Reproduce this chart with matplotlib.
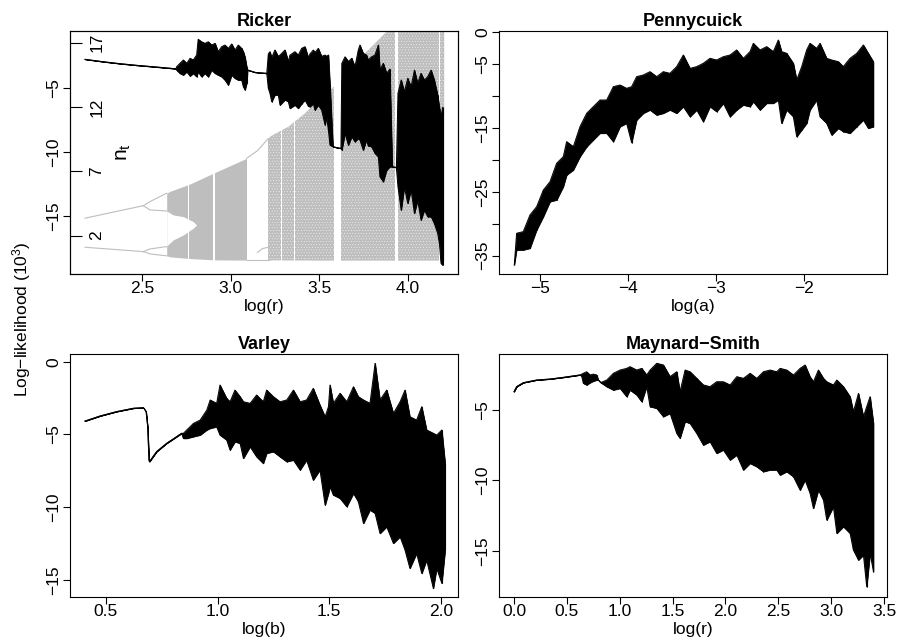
import numpy as np
import matplotlib.pyplot as plt
from matplotlib.transforms import blended_transform_factory

plt.rcParams['font.family'] = ['Liberation Sans', 'DejaVu Sans']
plt.rcParams['mathtext.default'] = 'regular'
plt.rcParams['hatch.linewidth'] = 0.3

GRAY = '#bebebe'
MINUS = '\u2212'

# ---------------- Ricker: log-likelihood profile (upper / lower envelope) ----------------
ricker_x = [2.177, 2.280, 2.374, 2.469, 2.562, 2.690,
            2.694, 2.713, 2.732, 2.751, 2.770, 2.788, 2.807, 2.816, 2.835, 2.854, 2.873,
            2.892, 2.911, 2.929, 2.948, 2.967, 2.986, 3.005, 3.024, 3.042, 3.061, 3.071,
            3.080, 3.090, 3.095, 3.137, 3.203,
            3.212, 3.221, 3.231, 3.249, 3.268, 3.278, 3.306, 3.325, 3.334, 3.362, 3.381,
            3.400, 3.419, 3.438, 3.447, 3.466, 3.475, 3.494, 3.513, 3.532, 3.541, 3.551,
            3.560, 3.577, 3.600, 3.622,
            3.627, 3.645, 3.664, 3.683, 3.701, 3.720, 3.729, 3.748, 3.766, 3.776, 3.795,
            3.814, 3.833, 3.842, 3.861, 3.880, 3.898, 3.912, 3.935,
            3.944, 3.962, 3.980, 3.999, 4.018, 4.037, 4.055, 4.074, 4.093, 4.112, 4.131,
            4.149, 4.168, 4.178, 4.187, 4.196]
ricker_hi = [-2.73, -2.92, -3.07, -3.20, -3.31, -3.47,
             -3.31, -3.04, -2.78, -3.04, -2.65, -2.78, -2.39, -1.16, -1.35, -1.48, -1.35,
             -1.61, -1.48, -2.13, -1.74, -1.61, -1.87, -1.53, -2.00, -1.61, -1.87, -2.13,
             -2.53, -3.31, -3.57, -3.75, -3.83,
             -2.30, -2.13, -2.60, -2.00, -2.50, -2.39, -2.00, -2.90, -2.40, -2.13, -2.40,
             -1.87, -1.74, -2.60, -2.30, -2.00, -2.20, -1.87, -2.50, -2.39, -2.50, -2.39,
             -4.70, -9.57, -9.65, -9.70,
             -3.04, -2.53, -2.90, -2.65, -3.31, -2.00, -1.61, -2.26, -2.39, -2.78, -2.53,
             -2.39, -1.61, -3.57, -3.04, -3.83, -3.50, -11.14, -11.20,
             -5.39, -4.35, -5.27, -4.22, -4.87, -3.57, -4.61, -3.83, -4.35, -4.09, -3.57,
             -4.35, -5.52, -6.50, -7.22, -6.50]
ricker_lo = [-2.73, -2.92, -3.07, -3.20, -3.31, -3.47,
             -3.57, -3.83, -3.96, -3.70, -4.04, -3.83, -4.09, -3.70, -4.09, -3.83, -4.09,
             -3.57, -3.83, -3.96, -4.09, -4.35, -4.74, -3.96, -4.22, -4.35, -4.35, -4.87,
             -5.13, -4.61, -3.57, -3.75, -3.83,
             -5.00, -5.39, -6.05, -5.52, -5.52, -6.31, -5.90, -6.05, -6.57, -6.31, -6.57,
             -6.20, -5.92, -6.40, -6.44, -6.20, -6.70, -6.31, -6.70, -7.87, -7.22, -8.27,
             -9.44, -9.57, -9.65, -9.70,
             -9.83, -8.52, -9.44, -8.79, -9.18, -8.92, -9.05, -9.83, -9.05, -9.50, -9.57,
             -10.09, -10.36, -11.92, -12.31, -11.40, -11.14, -11.14, -11.20,
             -12.71, -14.53, -12.71, -14.00, -12.96, -14.79, -13.75, -15.31, -14.53, -15.05,
             -15.05, -15.57, -16.35, -17.14, -18.70, -18.84]

# ---------------- Ricker: bifurcation diagram (n_t) ----------------
bif_x = [2.638, 2.657, 2.770, 2.901, 3.090, 3.137, 3.221, 3.325, 3.419, 3.513, 3.607,
         3.701, 3.795, 3.889, 4.205]
bif_hi = [5.30, 5.45, 6.02, 6.85, 8.02, 8.79, 9.70, 10.47, 11.51, 12.80, 13.85,
          15.40, 16.69, 17.99, 19.00]
bif_lo = [0.43, 0.35, 0.22, 0.12, 0.10, 0.10, 0.08, 0.07, 0.07, 0.06, 0.06,
          0.06, 0.06, 0.06, 0.06]
speckle_from = 3.212   # right of the period-3 window the band is visibly speckled
gap_x = [2.638, 2.675, 2.732, 2.788, 2.807]
gap_top = [3.92, 3.61, 3.48, 3.09, 2.83]
gap_bot = [1.20, 1.67, 2.06, 2.58, 2.83]
win_start = [2.757, 2.902, 3.090, 3.285, 3.356, 3.583, 3.927, 4.178]
win_end = [2.764, 2.909, 3.212, 3.291, 3.362, 3.622, 3.946, 4.184]
branches = [
    ([2.177, 2.506], [3.36, 4.33]),
    ([2.177, 2.506], [1.10, 0.76]),
    ([2.506, 2.544, 2.638], [4.33, 4.65, 5.30]),
    ([2.506, 2.544, 2.638], [4.33, 4.00, 3.92]),
    ([2.506, 2.544, 2.638], [0.76, 0.97, 1.15]),
    ([2.506, 2.544, 2.638], [0.76, 0.58, 0.43]),
    ([3.090, 3.150, 3.212], [8.02, 8.60, 9.55]),
    ([3.090, 3.212], [0.10, 0.10]),
    ([3.150, 3.180, 3.212], [0.70, 1.00, 1.10]),
]
nt_ticks = [2, 7, 12, 17]

# ---------------- Pennycuick ----------------
penny_x = [-5.293, -5.267, -5.191, -5.115, -5.039, -4.963, -4.887, -4.812, -4.736, -4.698,
           -4.622, -4.546, -4.470, -4.395, -4.319, -4.243, -4.167, -4.091, -4.016, -3.959,
           -3.902, -3.826, -3.750, -3.674, -3.599, -3.523, -3.447, -3.371, -3.295, -3.219,
           -3.144, -3.068, -2.992, -2.916, -2.840, -2.765, -2.689, -2.613, -2.575, -2.499,
           -2.423, -2.348, -2.291, -2.253, -2.196, -2.120, -2.082, -2.025, -1.969, -1.931,
           -1.855, -1.817, -1.741, -1.684, -1.608, -1.552, -1.476, -1.400, -1.324, -1.267,
           -1.210]
penny_hi = [-36.45, -31.49, -31.23, -28.62, -27.32, -24.71, -23.40, -20.53, -19.48, -17.13,
            -17.92, -14.78, -12.69, -11.65, -10.61, -10.61, -8.52, -8.26, -8.78, -8.52,
            -6.95, -6.69, -6.17, -6.95, -6.17, -6.43, -5.38, -3.56, -5.65, -5.38,
            -4.86, -4.08, -4.34, -3.82, -3.56, -2.77, -4.08, -3.03, -1.73, -2.77,
            -2.25, -3.03, -1.21, -3.03, -3.30, -4.86, -7.47, -5.38, -2.77, -1.73,
            -2.51, -1.73, -4.08, -4.34, -4.60, -5.38, -4.08, -3.30, -1.99, -3.30,
            -4.60]
penny_lo = [-36.45, -34.10, -34.10, -33.84, -30.97, -28.88, -26.53, -26.27, -24.18, -22.36,
            -21.57, -19.48, -17.92, -16.87, -15.82, -15.82, -17.13, -14.78, -14.26, -17.29,
            -13.74, -12.69, -12.17, -12.96, -12.69, -12.17, -12.69, -11.65, -13.22, -12.17,
            -14.00, -11.65, -12.43, -11.13, -13.22, -12.17, -11.39, -11.65, -10.87, -12.17,
            -11.13, -11.13, -10.61, -14.26, -12.17, -13.22, -16.35, -15.30, -14.26, -12.17,
            -10.61, -13.22, -14.26, -16.09, -15.04, -15.56, -15.82, -14.78, -13.74, -15.04,
            -14.78]
penny_yticks = [0, -5, -10, -15, -20, -25, -30, -35]
penny_ylabels = ['0', MINUS + '5', '', MINUS + '15', '', MINUS + '25', '', MINUS + '35']

# ---------------- Varley ----------------
varley_x = [0.406, 0.474, 0.548, 0.623, 0.668, 0.680, 0.687, 0.693, 0.695, 0.727, 0.772,
            0.817, 0.839, 0.847, 0.862, 0.892, 0.922, 0.952, 0.967, 0.996, 1.011, 1.041,
            1.056, 1.078, 1.101, 1.116, 1.146, 1.175, 1.205, 1.220, 1.250, 1.280, 1.310,
            1.340, 1.370, 1.399, 1.429, 1.459, 1.482, 1.497, 1.504, 1.519, 1.549, 1.579,
            1.609, 1.631, 1.654, 1.683, 1.706, 1.728, 1.758, 1.788, 1.818, 1.840, 1.862,
            1.892, 1.915, 1.937, 1.967, 1.982, 2.005, 2.020]
varley_hi = [-4.08, -3.73, -3.43, -3.20, -3.16, -3.43, -4.46, -6.75, -6.87, -6.18, -5.61,
             -5.15, -4.92, -4.92, -4.69, -4.24, -4.01, -3.32, -2.63, -2.86, -1.60, -2.52,
             -2.75, -1.95, -2.40, -2.75, -2.86, -2.29, -2.75, -1.95, -2.40, -2.75, -2.63,
             -1.95, -2.75, -2.63, -1.83, -2.98, -3.78, -3.09, -1.60, -2.86, -2.17, -2.75,
             -1.72, -2.40, -2.63, -2.86, -0.11, -2.63, -1.95, -3.55, -2.75, -1.95, -3.78,
             -4.01, -3.09, -4.69, -4.92, -5.04, -4.69, -6.99]
varley_lo = [-4.08, -3.73, -3.43, -3.20, -3.16, -3.43, -4.46, -6.75, -6.87, -6.18, -5.61,
             -5.15, -4.92, -5.27, -5.27, -5.15, -5.04, -4.69, -4.58, -4.47, -5.04, -5.38,
             -6.07, -5.50, -5.61, -6.64, -5.84, -6.53, -6.99, -6.30, -6.18, -6.53, -6.87,
             -6.76, -7.44, -6.76, -8.13, -7.44, -9.85, -9.05, -8.59, -9.16, -9.39, -9.96,
             -9.05, -9.62, -11.11, -10.19, -10.42, -11.80, -11.34, -12.48, -12.03, -12.94,
             -14.20, -13.17, -14.55, -13.63, -15.58, -14.20, -15.23, -12.94]

# ---------------- Maynard-Smith ----------------
ms_x = [0.000, 0.025, 0.088, 0.214, 0.341, 0.467, 0.624, 0.640, 0.656, 0.687, 0.719,
        0.750, 0.782, 0.798, 0.820, 0.877, 0.940, 1.003, 1.066, 1.097, 1.161, 1.208,
        1.255, 1.287, 1.350, 1.413, 1.476, 1.539, 1.570, 1.618, 1.665, 1.728, 1.791,
        1.854, 1.917, 1.980, 2.044, 2.107, 2.170, 2.233, 2.296, 2.359, 2.422, 2.485,
        2.517, 2.580, 2.643, 2.706, 2.753, 2.800, 2.832, 2.879, 2.927, 2.958, 3.021,
        3.053, 3.116, 3.179, 3.210, 3.258, 3.305, 3.336, 3.368, 3.400]
ms_hi = [-3.70, -3.34, -3.06, -2.87, -2.80, -2.68, -2.51, -2.45, -2.39, -2.28, -2.51,
         -2.45, -2.51, -2.87, -3.05, -2.87, -2.39, -2.16, -2.04, -1.92, -2.16, -2.04,
         -2.51, -2.16, -1.68, -1.80, -2.63, -2.28, -3.70, -2.16, -2.28, -2.75, -3.22,
         -3.34, -2.99, -2.99, -3.22, -2.63, -2.75, -2.39, -2.75, -2.28, -2.16, -2.28,
         -2.04, -2.16, -2.51, -2.04, -1.80, -2.63, -2.99, -2.16, -2.75, -2.99, -3.22,
         -2.87, -3.34, -4.05, -5.12, -3.82, -5.47, -4.76, -4.05, -5.95]
ms_lo = [-3.70, -3.34, -3.06, -2.87, -2.80, -2.68, -2.51, -2.60, -3.10, -3.22, -3.06,
         -2.95, -2.87, -2.87, -3.05, -3.34, -3.58, -3.46, -4.05, -3.58, -3.93, -4.41,
         -3.34, -4.76, -4.88, -5.47, -5.24, -6.66, -7.01, -5.83, -5.95, -6.66, -7.49,
         -7.25, -8.08, -7.84, -8.55, -8.20, -9.26, -8.79, -9.03, -9.38, -9.26, -9.26,
         -9.62, -9.38, -9.74, -10.69, -9.98, -10.92, -11.99, -10.69, -11.40, -12.82,
         -11.87, -13.77, -13.29, -13.77, -14.95, -15.66, -15.31, -17.56, -15.19, -16.49]

# ---------------- figure ----------------
W, H = 897, 639
fig = plt.figure(figsize=(W / 100, H / 100), dpi=100)


def box(x0, y0, x1, y1):
    return [x0 / W, 1 - y1 / H, (x1 - x0) / W, (y1 - y0) / H]


def style(ax, xlab, title):
    for s in ax.spines.values():
        s.set_linewidth(0.8)
    ax.tick_params(direction='out', length=4.8, width=0.8, labelsize=12.5)
    ax.tick_params(axis='x', pad=0.5)
    ax.tick_params(axis='y', labelrotation=90, pad=1.5)
    plt.setp(ax.get_yticklabels(), va='center')
    ax.set_title(title, fontsize=13, fontweight='bold', pad=3.5)
    ax.set_xlabel(xlab, fontsize=12.5)
    ax.xaxis.set_label_coords(0.5, -0.135)
    ax.xaxis.label.set_va('center')


def trace(ax, x, hi, lo):
    ax.fill_between(x, lo, hi, facecolor='black', edgecolor='black', lw=0.5)
    ax.vlines(x, lo, hi, color='black', lw=0.8)
    ax.plot(x, hi, color='black', lw=0.7)
    ax.plot(x, lo, color='black', lw=0.7)


# Ricker: bifurcation axes underneath, likelihood axes on top
axb = fig.add_axes(box(70, 31, 458, 274))
bx = np.array(bif_x)
axb.fill_between(bx, bif_lo, bif_hi, where=bx <= speckle_from + 0.01, interpolate=True,
                 color=GRAY, lw=0)
axb.fill_between(bx, bif_lo, bif_hi, where=bx >= speckle_from - 0.01, interpolate=True,
                 facecolor=GRAY, edgecolor='#f4f4f4', hatch='......', lw=0)
axb.fill_between(gap_x, gap_bot, gap_top, color='white', lw=0)
for a, b in zip(win_start, win_end):
    axb.axvspan(a, b, color='white', lw=0)
for brx, bry in branches:
    axb.plot(brx, bry, color=GRAY, lw=0.8)
axb.set_xlim(2.092, 4.283)
axb.set_ylim(-0.98, 17.91)
axb.set_xticks([2.5, 3.0, 3.5, 4.0])
axb.set_yticks(nt_ticks)
axb.tick_params(axis='y', direction='in', length=8.6, width=0.8, labelleft=False)
axb.tick_params(axis='x', direction='out', length=4.8, width=0.8, labelsize=12.5, pad=0.5)
for s in axb.spines.values():
    s.set_linewidth(0.8)
tr = blended_transform_factory(axb.transAxes, axb.transData)
for n in nt_ticks:
    axb.text(0.069, n, str(n), transform=tr, rotation=90, ha='center', va='center',
             fontsize=12.5)
axb.text(0.137, 0.50, r'$n_t$', transform=axb.transAxes, rotation=90, ha='center',
         va='center', fontsize=15)
axb.set_title('Ricker', fontsize=13, fontweight='bold', pad=3.5)
axb.set_xlabel('log(r)', fontsize=12.5)
axb.xaxis.set_label_coords(0.5, -0.135)
axb.xaxis.label.set_va('center')

axr = axb.twinx()
axr.yaxis.tick_left()
axr.yaxis.set_label_position('left')
trace(axr, ricker_x, ricker_hi, ricker_lo)
axr.set_ylim(-19.54, -0.51)
axr.set_yticks([-5, -10, -15])
axr.tick_params(axis='y', direction='out', length=4.8, width=0.8, labelsize=12.5,
                labelrotation=90, pad=1.5, right=False, labelright=False)
plt.setp(axr.get_yticklabels(), va='center')

# Pennycuick
axp = fig.add_axes(box(499, 31, 887, 274))
trace(axp, penny_x, penny_hi, penny_lo)
axp.set_xlim(-5.467, -1.055)
axp.set_ylim(-37.87, 0.2)
axp.set_xticks([-5, -4, -3, -2])
axp.set_yticks(penny_yticks)
axp.set_yticklabels(penny_ylabels)
style(axp, 'log(a)', 'Pennycuick')

# Varley
axv = fig.add_axes(box(70, 354, 458, 597))
trace(axv, varley_x, varley_hi, varley_lo)
axv.set_xlim(0.339, 2.0775)
axv.set_ylim(-16.17, 0.53)
axv.set_xticks([0.5, 1.0, 1.5, 2.0])
axv.set_yticks([0, -5, -10, -15])
style(axv, 'log(b)', 'Varley')

# Maynard-Smith
axm = fig.add_axes(box(499, 354, 887, 597))
trace(axm, ms_x, ms_hi, ms_lo)
axm.set_xlim(-0.142, 3.528)
axm.set_ylim(-18.29, -1.02)
axm.set_xticks([0.0, 0.5, 1.0, 1.5, 2.0, 2.5, 3.0, 3.5])
axm.set_yticks([-5, -10, -15])
style(axm, 'log(r)', 'Maynard' + MINUS + 'Smith')

fig.text(22 / W, 0.5, 'Log' + MINUS + 'likelihood (10$^3$)', rotation=90, ha='center',
         va='center', fontsize=12.5)

fig.savefig('out.png', dpi=100)
